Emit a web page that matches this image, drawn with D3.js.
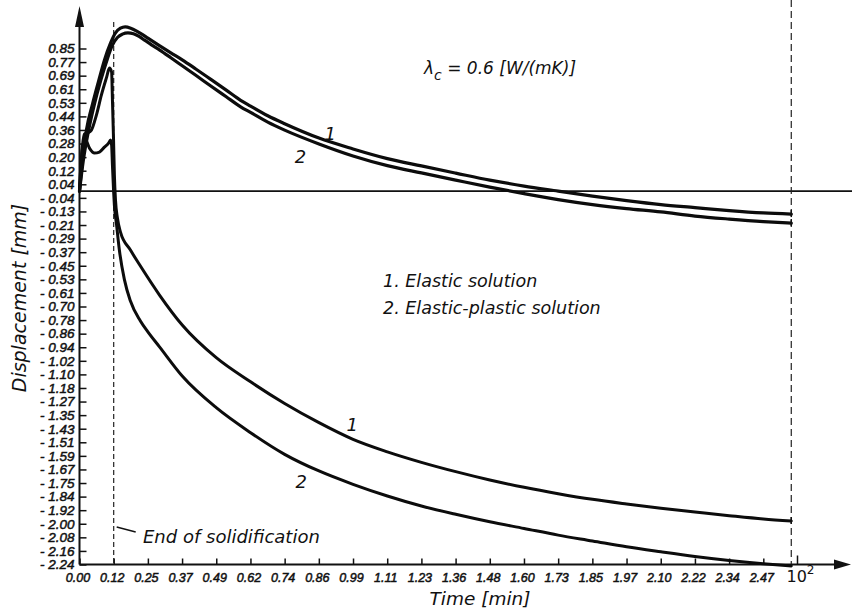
<!DOCTYPE html>
<html>
<head>
<meta charset="utf-8">
<script src="https://cdn.jsdelivr.net/npm/d3@7"></script>
<style>
  body { margin: 0; background: #fff; }
  svg text { font-family: 'DejaVu Sans', sans-serif; font-style: italic; fill: #111; }
  .tick text { font-family: 'Liberation Sans', Arial, sans-serif; stroke: #111; stroke-width: 0.5; }
  .tick line { stroke: #111; stroke-width: 1.5; }
  .curve { fill: none; stroke: #0c0c0c; stroke-linejoin: round; stroke-linecap: round; }
</style>
</head>
<body>
<div id="chart"></div>
<script>
// time step between x ticks (min) and displacement step between y ticks (mm)
var timeStep = 0.1235,
  dispStep = 0.0815;

var xTickLabels = ['0.00', '0.12', '0.25', '0.37', '0.49', '0.62', '0.74', '0.86', '0.99', '1.11',
  '1.23', '1.36', '1.48', '1.60', '1.73', '1.85', '1.97', '2.10', '2.22', '2.34', '2.47'];
var yPosLabels = ['0.04', '0.12', '0.20', '0.28', '0.36', '0.44', '0.53', '0.61', '0.69', '0.77', '0.85'];
var yNegLabels = ['0.04', '0.13', '0.21', '0.29', '0.37', '0.45', '0.53', '0.61', '0.70', '0.78',
  '0.86', '0.94', '1.02', '1.10', '1.18', '1.27', '1.35', '1.43', '1.51', '1.59',
  '1.67', '1.75', '1.84', '1.92', '2.00', '2.08', '2.16', '2.24'];

var endTime = 2.571; // right dashed line, last computed point

// [time (min), displacement (mm)]
var elasticUpper = [[0, 0], [0.011, 0.186], [0.025, 0.366], [0.047, 0.522], [0.069, 0.660], [0.090, 0.786],
  [0.112, 0.888], [0.130, 0.950], [0.148, 0.978], [0.165, 0.986], [0.185, 0.978], [0.205, 0.962],
  [0.225, 0.942], [0.247, 0.918], [0.290, 0.872], [0.330, 0.830], [0.371, 0.788], [0.420, 0.733],
  [0.473, 0.672], [0.530, 0.606], [0.582, 0.545], [0.618, 0.510], [0.680, 0.452], [0.741, 0.404],
  [0.865, 0.318], [0.988, 0.253], [1.112, 0.195], [1.235, 0.151], [1.359, 0.108], [1.482, 0.066],
  [1.606, 0.030], [1.729, 0.000], [1.853, -0.030], [1.976, -0.057], [2.100, -0.081], [2.223, -0.099],
  [2.347, -0.117], [2.470, -0.131], [2.571, -0.138]];

var plasticUpper = [[0, 0], [0.014, 0.186], [0.033, 0.366], [0.054, 0.522], [0.076, 0.660], [0.098, 0.780],
  [0.119, 0.876], [0.137, 0.922], [0.155, 0.942], [0.175, 0.950], [0.195, 0.944], [0.215, 0.928],
  [0.235, 0.906], [0.260, 0.878], [0.290, 0.846], [0.330, 0.800], [0.371, 0.752], [0.420, 0.695],
  [0.473, 0.632], [0.530, 0.566], [0.582, 0.506], [0.618, 0.472], [0.680, 0.414], [0.741, 0.366],
  [0.865, 0.283], [0.988, 0.211], [1.112, 0.153], [1.235, 0.109], [1.359, 0.066], [1.482, 0.024],
  [1.606, -0.015], [1.729, -0.051], [1.853, -0.081], [1.976, -0.105], [2.100, -0.125], [2.223, -0.150],
  [2.347, -0.168], [2.470, -0.183], [2.571, -0.192]];

var elasticLower = [[0, 0], [0.004, 0.126], [0.011, 0.276], [0.018, 0.342], [0.029, 0.348], [0.043, 0.366],
  [0.061, 0.456], [0.079, 0.576], [0.098, 0.684], [0.108, 0.738], [0.116, 0.714], [0.119, 0.546],
  [0.123, 0.306], [0.126, 0.096], [0.130, -0.054], [0.137, -0.162], [0.148, -0.246], [0.184, -0.354],
  [0.220, -0.450], [0.289, -0.624], [0.371, -0.804], [0.494, -1.000], [0.618, -1.145], [0.741, -1.275],
  [0.865, -1.390], [0.988, -1.490], [1.112, -1.565], [1.235, -1.628], [1.359, -1.684], [1.482, -1.734],
  [1.606, -1.778], [1.729, -1.816], [1.853, -1.850], [1.976, -1.878], [2.100, -1.904], [2.223, -1.926],
  [2.347, -1.948], [2.470, -1.968], [2.571, -1.980]];

var plasticLower = [[0, 0], [0.004, 0.126], [0.011, 0.258], [0.022, 0.306], [0.036, 0.258], [0.054, 0.228],
  [0.072, 0.234], [0.090, 0.264], [0.105, 0.288], [0.112, 0.306], [0.116, 0.276], [0.119, 0.156],
  [0.123, 0.006], [0.126, -0.084], [0.134, -0.204], [0.144, -0.354], [0.162, -0.530], [0.184, -0.660],
  [0.220, -0.780], [0.247, -0.845], [0.289, -0.935], [0.371, -1.110], [0.494, -1.300], [0.618, -1.450],
  [0.741, -1.580], [0.865, -1.680], [0.988, -1.760], [1.112, -1.830], [1.235, -1.890], [1.359, -1.940],
  [1.482, -1.985], [1.606, -2.025], [1.729, -2.065], [1.853, -2.100], [1.976, -2.135], [2.100, -2.165],
  [2.223, -2.193], [2.347, -2.217], [2.470, -2.237], [2.571, -2.250]];

// curve number labels: [time, displacement, text]
var curveLabels = [[0.906, 0.343, '1'], [0.798, 0.205, '2'], [0.985, -1.40, '1'], [0.801, -1.745, '2']];

var width = 852, height = 612;

var svg = d3.select('#chart').append('svg')
  .attr('width', width)
  .attr('height', height);

var x = d3.scaleLinear()
  .domain([0, 21 * timeStep])
  .range([79.5, 797.5]);

var y = d3.scaleLinear()
  .domain([-27.5 * dispStep, 10.5 * dispStep])
  .range([564.5, 48.5]);

var x0 = x(0), y0 = y(-27.5 * dispStep);

// y axis ticks (inside) with labels
var yVals = [], yLabels = [];
yNegLabels.forEach(function (l, i) {
  yVals.push(-(i + 0.5) * dispStep);
  yLabels.push('- ' + l);
});
yPosLabels.forEach(function (l, i) {
  yVals.push((i + 0.5) * dispStep);
  yLabels.push(l);
});

var yAxis = svg.append('g')
  .attr('transform', 'translate(' + x0 + ',0)')
  .call(d3.axisLeft(y)
    .tickValues(yVals)
    .tickFormat(function (d, i) { return yLabels[i]; })
    .tickSizeInner(-7)
    .tickSizeOuter(0)
    .tickPadding(5));
yAxis.select('.domain').remove();
yAxis.selectAll('text').attr('font-size', 13.5).attr('font-family', null);

// x axis ticks (inside)
var xVals = xTickLabels.map(function (l, i) { return i * timeStep; });
var xAxis = svg.append('g')
  .attr('transform', 'translate(0,' + y0 + ')')
  .call(d3.axisBottom(x)
    .tickValues(xVals)
    .tickFormat(function (d, i) { return xTickLabels[i]; })
    .tickSizeInner(-6)
    .tickSizeOuter(0)
    .tickPadding(9));
xAxis.select('.domain').remove();
xAxis.selectAll('text').attr('font-size', 12.5).attr('dx', -2).attr('font-family', null);

// 10^2 tick at the end of the time axis
svg.append('line')
  .attr('x1', x(21 * timeStep)).attr('x2', x(21 * timeStep))
  .attr('y1', y0).attr('y2', y0 - 9)
  .attr('stroke', '#111').attr('stroke-width', 1.5);
var pow = svg.append('text')
  .attr('x', x(21 * timeStep) - 11)
  .attr('y', y0 + 17)
  .attr('font-family', 'Liberation Sans, Arial, sans-serif')
  .attr('font-size', 16)
  .style('font-style', 'normal');
pow.append('tspan').text('10');
pow.append('tspan').attr('dy', -8).attr('font-size', 12).text('2');

// axis lines with arrows
svg.append('line')
  .attr('x1', x0).attr('x2', x0)
  .attr('y1', y0).attr('y2', 20)
  .attr('stroke', '#111').attr('stroke-width', 2);
svg.append('path')
  .attr('d', 'M' + x0 + ',6 L' + (x0 + 4.5) + ',27 L' + (x0 - 4.5) + ',27 Z')
  .attr('fill', '#111');
svg.append('line')
  .attr('x1', x0).attr('x2', 840)
  .attr('y1', y0).attr('y2', y0)
  .attr('stroke', '#111').attr('stroke-width', 2);
svg.append('path')
  .attr('d', 'M851,' + y0 + ' L834,' + (y0 - 5) + ' L834,' + (y0 + 5) + ' Z')
  .attr('fill', '#111');

// zero line
svg.append('line')
  .attr('x1', x0).attr('x2', width)
  .attr('y1', y(0)).attr('y2', y(0))
  .attr('stroke', '#111').attr('stroke-width', 1.6);

// dashed lines: end of solidification and end of computation
svg.append('line')
  .attr('x1', x(timeStep)).attr('x2', x(timeStep))
  .attr('y1', 22).attr('y2', y0)
  .attr('stroke', '#222').attr('stroke-width', 1.2)
  .attr('stroke-dasharray', '5,3');
svg.append('line')
  .attr('x1', x(endTime)).attr('x2', x(endTime))
  .attr('y1', 0).attr('y2', y0)
  .attr('stroke', '#222').attr('stroke-width', 1.2)
  .attr('stroke-dasharray', '7,4');

// curves
var line = d3.line()
  .x(function (d) { return x(d[0]); })
  .y(function (d) { return y(d[1]); })
  .curve(d3.curveMonotoneX);

[elasticUpper, plasticUpper].forEach(function (s) {
  svg.append('path').datum(s).attr('class', 'curve').attr('stroke-width', 3.2).attr('d', line);
});
[elasticLower, plasticLower].forEach(function (s) {
  svg.append('path').datum(s).attr('class', 'curve').attr('stroke-width', 3).attr('d', line);
});

// short vertical end caps at the right dashed line
[elasticUpper, plasticUpper, elasticLower].forEach(function (s) {
  var last = s[s.length - 1];
  svg.append('line')
    .attr('x1', x(last[0])).attr('x2', x(last[0]))
    .attr('y1', y(last[1]) - 4).attr('y2', y(last[1]) + 3)
    .attr('stroke', '#111').attr('stroke-width', 1.5);
});

svg.selectAll('.curve-label')
  .data(curveLabels)
  .enter()
  .append('text')
  .attr('class', 'curve-label')
  .attr('x', function (d) { return x(d[0]); })
  .attr('y', function (d) { return y(d[1]); })
  .attr('text-anchor', 'middle')
  .attr('dominant-baseline', 'central')
  .attr('font-size', 18)
  .text(function (d) { return d[2]; });

// annotations
var lam = svg.append('text')
  .attr('x', 424).attr('y', 74)
  .attr('font-size', 17);
lam.append('tspan').text('λ');
lam.append('tspan').attr('dy', 6).attr('font-size', 14).text('c');
lam.append('tspan').attr('dy', -6).text(' = 0.6 [W/(mK)]');

svg.append('text').attr('x', 383).attr('y', 287).attr('font-size', 17.5).text('1.  Elastic solution');
svg.append('text').attr('x', 383).attr('y', 314).attr('font-size', 17.5).text('2.  Elastic-plastic solution');

svg.append('line')
  .attr('x1', x(timeStep) + 3).attr('y1', 527)
  .attr('x2', x(timeStep) + 22).attr('y2', 532)
  .attr('stroke', '#111').attr('stroke-width', 1.3);
svg.append('text').attr('x', 143).attr('y', 543).attr('font-size', 18).text('End of solidification');

// axis titles
svg.append('text')
  .attr('x', 480).attr('y', 605)
  .attr('text-anchor', 'middle')
  .attr('font-size', 18.5)
  .text('Time [min]');
svg.append('text')
  .attr('transform', 'translate(26,298) rotate(-90)')
  .attr('text-anchor', 'middle')
  .attr('font-size', 19)
  .text('Displacement [mm]');
</script>
</body>
</html>
